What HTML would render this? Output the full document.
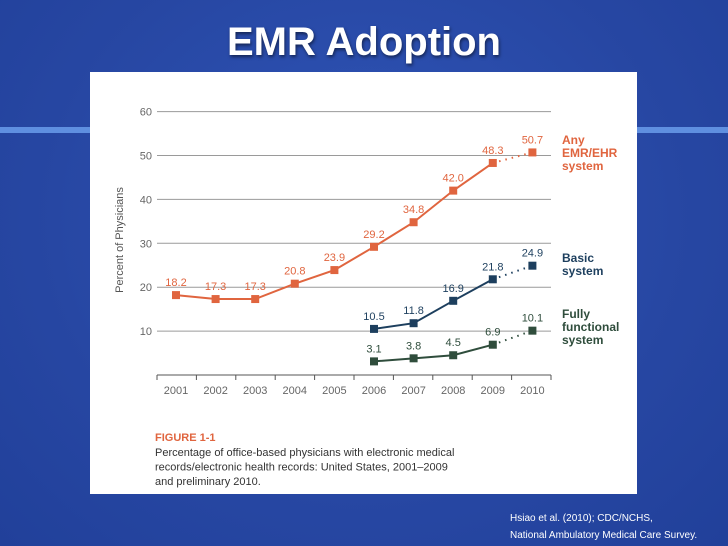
<!DOCTYPE html>
<html><head><meta charset="utf-8"><style>
html,body{margin:0;padding:0}
body{width:728px;height:546px;overflow:hidden;background:radial-gradient(ellipse at 50% 40%,#2f55b8 0%,#2747a3 60%,#21409a 100%);font-family:"Liberation Sans",sans-serif;position:relative}
.stripe{position:absolute;top:127px;height:6px;background:#5f8fe0}
#title{position:absolute;left:0;width:728px;top:20px;text-align:center;color:#fff;font-weight:bold;font-size:40px;text-shadow:1px 2px 3px rgba(0,0,0,.5)}
#panel{position:absolute;left:90px;top:72px;width:547px;height:422px;background:#fff}
#cite{position:absolute;left:510px;top:510px;color:#fff;font-size:10px;line-height:17px}
</style></head><body>
<div class="stripe" style="left:0;width:90px"></div>
<div class="stripe" style="left:637px;width:91px"></div>
<div id="title">EMR Adoption</div>
<div id="panel">
<svg id="chart" width="547" height="422" style="font-family:'Liberation Sans',sans-serif"></svg>
</div>
<div id="cite">Hsiao et al. (2010); CDC/NCHS,<br>National Ambulatory Medical Care Survey.</div>
<script>
const years=["2001","2002","2003","2004","2005","2006","2007","2008","2009","2010"];
const yTicks=[10,20,30,40,50,60];
const anyEmr=[18.2,17.3,17.3,20.8,23.9,29.2,34.8,42.0,48.3,50.7];
const basic=[null,null,null,null,null,10.5,11.8,16.9,21.8,24.9];
const fully=[null,null,null,null,null,3.1,3.8,4.5,6.9,10.1];
const NS="http://www.w3.org/2000/svg";
const svg=document.getElementById('chart');
const ox=90,oy=72;
function X(i){return 176+i*39.6-ox;}
function Y(v){return 375-v*4.39-oy;}
function mk(t,a,p){const e=document.createElementNS(NS,t);for(const k in a)e.setAttribute(k,a[k]);(p||svg).appendChild(e);return e;}
yTicks.forEach(v=>{
 const l=mk('line',{x1:157-ox,x2:551-ox,y1:Y(v),y2:Y(v),stroke:'#9a9a9a','stroke-width':1});
 
 
 const t=mk('text',{x:152-ox,y:Y(v)+4,'text-anchor':'end','font-size':11,fill:'#666'});
 t.textContent=v;
 
 
});
const ax=mk('line',{x1:157-ox,x2:551-ox,y1:375-oy,y2:375-oy,stroke:'#555','stroke-width':1});


for(let i=0;i<=years.length;i++){
 const x=157-ox+i*(394/10);
 const tk=mk('line',{x1:x,x2:x,y1:375-oy,y2:380-oy,stroke:'#555'});
 
 
}
years.forEach((y,i)=>{
 const t=mk('text',{x:X(i),y:394-oy,'text-anchor':'middle','font-size':11,fill:'#666'});
 t.textContent=y;
 
 
});
const yt=mk('text',{transform:`translate(${123-ox},${240-oy}) rotate(-90)`,'text-anchor':'middle','font-size':11,fill:'#555'});
yt.textContent='Percent of Physicians';


function series(data,color,name){
 const pts=[];data.forEach((v,i)=>{if(v!==null)pts.push([X(i),Y(v),v]);});
 const solid=pts.slice(0,pts.length-1).map(p=>p[0]+','+p[1]).join(' ');
 const pl=mk('polyline',{points:solid,fill:'none',stroke:color,'stroke-width':2});
 
 
 const a=pts[pts.length-2],b=pts[pts.length-1];
 const dl=mk('line',{x1:a[0],y1:a[1],x2:b[0],y2:b[1],stroke:color,'stroke-width':2,'stroke-dasharray':'1.5,5'});
 
 
 pts.forEach(p=>{
  const r=mk('rect',{x:p[0]-4,y:p[1]-4,width:8,height:8,fill:color});
  
  
  const t=mk('text',{x:p[0],y:p[1]-9,'text-anchor':'middle','font-size':11,fill:color});
  t.textContent=p[2].toFixed(1);
  
  
 });
}
series(anyEmr,'#e0653f','any-emr');
series(basic,'#1d3f5e','basic');
series(fully,'#2f4d3c','fully-functional');
function legend(lines,y0,color,name){
 const t=mk('text',{x:562-ox,y:y0-oy,'font-size':12,'font-weight':'bold',fill:color});
 
 
 lines.forEach((s,i)=>{const ts=mk('tspan',{x:562-ox,dy:i?13:0},t);ts.textContent=s;});
}
legend(['Any','EMR/EHR','system'],144,'#e0653f','legend-any-emr');
legend(['Basic','system'],262,'#1d3f5e','legend-basic');
legend(['Fully','functional','system'],318,'#2f4d3c','legend-fully-functional');
const f=mk('text',{x:155-ox,y:441-oy,'font-size':11,'font-weight':'bold',fill:'#e0653f'});
f.textContent='FIGURE 1-1';


const cap=mk('text',{x:155-ox,y:456-oy,'font-size':11,fill:'#333'});


['Percentage of office-based physicians with electronic medical','records/electronic health records: United States, 2001–2009','and preliminary 2010.'].forEach((s,i)=>{const ts=mk('tspan',{x:155-ox,dy:i?14.5:0},cap);ts.textContent=s;});
</script>
</body></html>
